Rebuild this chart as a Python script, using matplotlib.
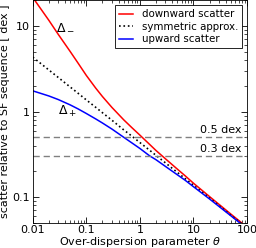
import matplotlib
matplotlib.use("Agg")
import matplotlib.pyplot as plt
from matplotlib.ticker import FuncFormatter

# values
theta = [0.01, 0.02, 0.03, 0.05, 0.07, 0.1, 0.15, 0.2, 0.3, 0.5, 0.7,
         1, 1.5, 2, 3, 5, 7, 10, 20, 50, 100]
downward = [21.7, 11.7, 8.0, 5.05, 3.7, 2.65, 1.88, 1.50, 1.12, 0.80, 0.653,
            0.53, 0.416, 0.35, 0.28, 0.212, 0.177, 0.145, 0.101, 0.063, 0.0443]
symmetric = [4.34, 3.07, 2.507, 1.94, 1.641, 1.37, 1.121, 0.97, 0.793, 0.61, 0.519,
             0.434, 0.355, 0.307, 0.251, 0.194, 0.164, 0.137, 0.097, 0.061, 0.0434]
upward = [1.75, 1.524, 1.383, 1.198, 1.076, 0.95, 0.82, 0.735, 0.625, 0.50, 0.432,
          0.37, 0.305, 0.273, 0.228, 0.182, 0.157, 0.132, 0.0947, 0.0602, 0.0425]
dex_levels = [0.5, 0.3]
dex_labels = ["0.5 dex", "0.3 dex"]

plt.rcParams["font.family"] = "DejaVu Sans"
plt.rcParams["font.size"] = 8
plt.rcParams["xtick.direction"] = "in"
plt.rcParams["ytick.direction"] = "in"
plt.rcParams["xtick.top"] = True
plt.rcParams["ytick.right"] = True

fig = plt.figure(figsize=(2.56, 2.48), dpi=100)
ax = fig.add_axes([0.128, 0.102, 0.837, 0.896])

ax.plot(theta, downward, color="red", lw=1.1, label="downward scatter")
ax.plot(theta, symmetric, color="black", lw=1.2, ls=":", label="symmetric approx.")
ax.plot(theta, upward, color="blue", lw=1.1, label="upward scatter")

for lev, lab in zip(dex_levels, dex_labels):
    ax.axhline(lev, color="gray", lw=1.0, ls=(0, (4.5, 2.8)))
    ax.text(78, lev * 1.07, lab, ha="right", va="bottom", fontsize=8)

ax.text(0.027, 10, r"$\Delta_-$", ha="left", va="center", fontsize=9)
ax.text(0.03, 1.0, r"$\Delta_+$", ha="left", va="center", fontsize=9)

ax.set_xscale("log")
ax.set_yscale("log")
ax.set_xlim(0.01, 100)
ax.set_ylim(0.05, 20)

fmt = FuncFormatter(lambda v, p: "%g" % v)
ax.xaxis.set_major_formatter(fmt)
ax.yaxis.set_major_formatter(fmt)
ax.tick_params(which="major", length=4, width=0.6)
ax.tick_params(axis="x", which="major", pad=1.5)
ax.tick_params(axis="y", which="major", pad=2)
ax.tick_params(which="minor", length=2, width=0.5)

ax.set_xlabel(r"Over-dispersion parameter $\theta$", labelpad=0)
ax.set_ylabel("scatter relative to SF sequence [ dex ]", labelpad=2)

leg = ax.legend(loc="upper right", fontsize=7.4, handlelength=1.3,
                handletextpad=0.9, labelspacing=0.25, borderpad=0.4,
                fancybox=False, framealpha=1.0, borderaxespad=0.45)
leg.get_frame().set_edgecolor("black")
leg.get_frame().set_linewidth(0.6)

for s in ax.spines.values():
    s.set_linewidth(0.6)

fig.savefig("out.png", dpi=100)
